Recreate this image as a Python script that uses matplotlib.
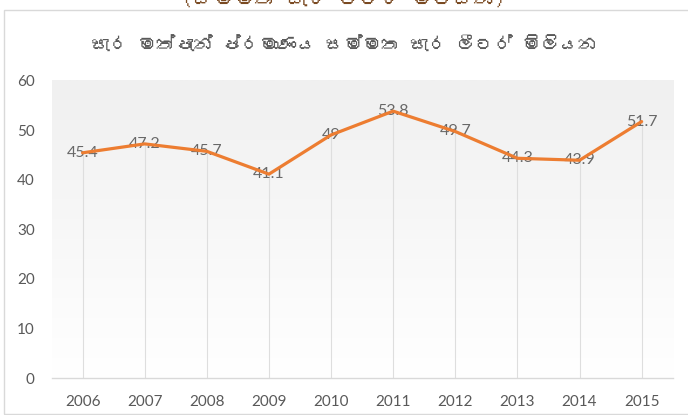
import matplotlib
matplotlib.use("Agg")
import matplotlib.pyplot as plt
from matplotlib import font_manager
from matplotlib.ft2font import FT2Font
from matplotlib.patches import Rectangle
from matplotlib.colors import LinearSegmentedColormap
import numpy as np

years = ["2006", "2007", "2008", "2009", "2010", "2011", "2012", "2013", "2014", "2015"]
values = [45.4, 47.2, 45.7, 41.1, 49, 53.8, 49.7, 44.3, 43.9, 51.7]
value_labels = ["45.4", "47.2", "45.7", "41.1", "49", "53.8", "49.7", "44.3", "43.9", "51.7"]
yticks = [0, 10, 20, 30, 40, 50, 60]
title = "සැර මත්පැන් ප්‍රමාණය සම්මත සැර ලීටර් මිලියන"
top_text = "(සම්මත සැර ලීටර් මිලියන)"


def find_family(ch):
    for f in font_manager.fontManager.ttflist:
        try:
            if ord(ch) in FT2Font(f.fname).get_charmap():
                return f.name
        except Exception:
            pass
    return None


def plain(s):
    # matplotlib has no complex shaping; drop zero-width joiners that show as boxes
    return s.replace("\u200d", "")


base = "Lato"
sinh = find_family("ස")
title_family = [sinh, base] if sinh else [base, "DejaVu Sans"]
plt.rcParams["font.family"] = [base, "DejaVu Sans"]

W, H = 688, 415
fig = plt.figure(figsize=(W / 100, H / 100), dpi=100)
fig.patch.set_facecolor("white")

# outer chart border
fig.patches.append(Rectangle((4 / W, 1 / H), 1.0, 1 - 11.5 / H, transform=fig.transFigure,
                             fill=False, edgecolor="#d9d9d9", lw=1.0))

# heading partly cut off at the very top, as in the reference
fig.text(0.5, 1 - 6 / H, plain(top_text), ha="center", va="baseline", fontsize=15,
         color="#7a4a22", family=title_family)

fig.text(0.5, 1 - 45 / H, plain(title), ha="center", va="center", fontsize=13.5,
         color="#595959", family=title_family)

ax = fig.add_axes([51.5 / W, 37 / H, (672.7 - 51.5) / W, (378 - 80.4) / H])
ax.set_xlim(-0.5, len(years) - 0.5)
ax.patch.set_alpha(0)

grad = np.linspace(0, 1, 256).reshape(-1, 1)
cmap = LinearSegmentedColormap.from_list("g", ["#ffffff", "#f0f0f0"])
ax.imshow(grad, aspect="auto", cmap=cmap, extent=[-0.5, len(years) - 0.5, 60, 0],
          zorder=0, origin="upper")
ax.set_ylim(0, 60)

x = np.arange(len(years))
ax.vlines(x, 0, values, color="#dedede", lw=0.8, zorder=1)
for xi, v, lab in zip(x, values, value_labels):
    ax.text(xi, v, lab, ha="center", va="center", fontsize=11.5, color="#595959",
            alpha=0.9, zorder=2)
ax.plot(x, values, color="#ed7d31", lw=2.3, solid_capstyle="round",
        solid_joinstyle="round", zorder=3)

for s in ["top", "right", "left"]:
    ax.spines[s].set_visible(False)
ax.spines["bottom"].set_color("#d9d9d9")
ax.spines["bottom"].set_linewidth(1.0)
ax.spines["bottom"].set_zorder(4)

ax.set_xticks(x)
ax.set_xticklabels(years)
ax.set_yticks(yticks)
ax.set_yticklabels([str(t) for t in yticks])
ax.tick_params(axis="both", length=0, labelsize=11, labelcolor="#595959")
ax.tick_params(axis="y", pad=12)
ax.tick_params(axis="x", pad=12)

fig.savefig("out.png", dpi=100)
